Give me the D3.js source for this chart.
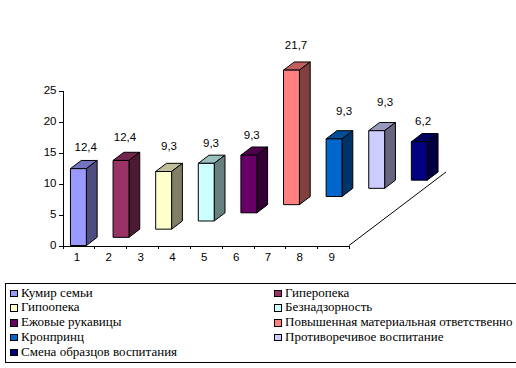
<!DOCTYPE html>
<html>
<head>
<meta charset="utf-8">
<script src="https://cdn.jsdelivr.net/npm/d3@7"></script>
<style>
    html, body { margin: 0; background: #fff; overflow: hidden; }
    svg { display: block; }
</style>
</head>
<body>
<script>
const names = ["Кумир семьи", "Гиперопека", "Гипоопека", "Безнадзорность", "Ежовые рукавицы",
    "Повышенная материальная ответственно", "Кронпринц", "Противоречивое воспитание", "Смена образцов воспитания"];
const values = [12.4, 12.4, 9.3, 9.3, 9.3, 21.7, 9.3, 9.3, 6.2];
const valueLabels = ["12,4", "12,4", "9,3", "9,3", "9,3", "21,7", "9,3", "9,3", "6,2"];
const xLabels = ["1", "2", "3", "4", "5", "6", "7", "8", "9"];
const yTicks = [0, 5, 10, 15, 20, 25];
const colors = ["#9999FF", "#993366", "#FFFFCC", "#CCFFFF", "#660066", "#FF8080", "#0066CC", "#CCCCFF", "#000080"];

// data labels in the original were placed by hand, so they don't sit evenly over the bars
const labelNudgeX = [1.9, -1.4, 0, -0.6, -2.5, -0.8, 4.6, 3, -1.6];
const labelNudgeY = [2.4, 0.4, -1.6, 3.4, 4, -1.6, -4, -4.6, 3.4];

const width = 516, height = 368;

const svg = d3.select("body").append("svg")
    .attr("width", width)
    .attr("height", height)
    .attr("viewBox", [0, 0, width, height]);

const xScale = d3.scaleBand(xLabels, [62.5, 349]).paddingInner(0.5).paddingOuter(0.25);
const xEdges = d3.scaleLinear([0, 9], [62.5, 349]);
const yScale = d3.scaleLinear([0, 25], [245.5, 90.5]);
// each bar stands one step further back on the floor of the 3d box
const depthX = d3.scaleLinear([0, 9], [0, 97]);
const depthY = d3.scaleLinear([0, 9], [0, -73.5]);

const axisFont = "Liberation Sans, Arial, sans-serif";

// floor edge going back from the end of the x axis
svg.append("line")
    .attr("x1", xEdges(9))
    .attr("y1", yScale(0))
    .attr("x2", xEdges(9) + depthX(9))
    .attr("y2", yScale(0) + depthY(9))
    .attr("stroke", "#000");

const bars = svg.append("g")
    .attr("stroke", "#000")
    .attr("stroke-width", 1)
    .attr("stroke-linejoin", "round")
    .selectAll("g")
    .data(values)
    .join("g")
    .attr("transform", (d, i) => `translate(${xScale(xLabels[i]) + depthX(i)},${depthY(i)})`);

const w = xScale.bandwidth(), dx = depthX(1), dy = depthY(1);

function shade(c, k) {
    const col = d3.rgb(c);
    return d3.rgb(col.r * k, col.g * k, col.b * k).formatHex();
}

// top
bars.append("path")
    .attr("fill", (d, i) => shade(colors[i], 0.75))
    .attr("d", d => `M0,${yScale(d)}l${dx},${dy}h${w}l${-dx},${-dy}z`);
// side
bars.append("path")
    .attr("fill", (d, i) => shade(colors[i], 0.5))
    .attr("d", d => `M${w},${yScale(d)}l${dx},${dy}V${yScale(0) + dy}L${w},${yScale(0)}z`);
// front
bars.append("rect")
    .attr("fill", (d, i) => colors[i])
    .attr("x", 0)
    .attr("y", d => yScale(d))
    .attr("width", w)
    .attr("height", d => yScale(0) - yScale(d));

svg.append("g")
    .attr("font-family", axisFont)
    .attr("font-size", 11.5)
    .attr("fill", "#000")
    .attr("text-anchor", "middle")
    .selectAll("text")
    .data(values)
    .join("text")
    .attr("x", (d, i) => xScale(xLabels[i]) + depthX(i) + w / 2 + dx / 2 + labelNudgeX[i])
    .attr("y", (d, i) => yScale(d) + depthY(i) - 20 + labelNudgeY[i])
    .text((d, i) => valueLabels[i]);

// axes
const gy = svg.append("g")
    .attr("transform", `translate(${xEdges(0)},0)`)
    .call(d3.axisLeft(yScale).tickValues(yTicks).tickSize(4).tickPadding(2).tickSizeOuter(0));
gy.selectAll("text")
    .attr("font-family", axisFont)
    .attr("font-size", 11.5)
    .attr("fill", "#000")
    .attr("y", -1);

const gxTicks = svg.append("g")
    .attr("transform", `translate(0,${yScale(0)})`)
    .call(d3.axisBottom(xEdges).tickValues(d3.range(10)).tickFormat("").tickSize(3).tickSizeOuter(0));

const gxLabels = svg.append("g")
    .attr("transform", `translate(-1.5,${yScale(0)})`)
    .call(d3.axisBottom(xScale).tickSize(0).tickPadding(7));
gxLabels.select(".domain").remove();
gxLabels.selectAll("text").attr("font-family", axisFont).attr("font-size", 11.5).attr("fill", "#000");

svg.selectAll(".domain, .tick line").attr("shape-rendering", "crispEdges");

// legend, runs off the right edge of the picture like the original
svg.append("rect")
    .attr("x", 5.5)
    .attr("y", 283.5)
    .attr("width", 540)
    .attr("height", 79)
    .attr("fill", "#fff")
    .attr("stroke", "#000")
    .attr("shape-rendering", "crispEdges");

const legendCol = d3.scaleOrdinal([0, 1], [10.5, 274.5]);
const legendRow = d3.scaleLinear([0, 4], [293.5, 352.5]);

const legend = svg.append("g")
    .selectAll("g")
    .data(names)
    .join("g")
    .attr("transform", (d, i) => `translate(${legendCol(i % 2)},${legendRow(Math.floor(i / 2))})`);

legend.append("rect")
    .attr("x", 0)
    .attr("y", -3.5)
    .attr("width", 6.5)
    .attr("height", 6.5)
    .attr("fill", (d, i) => colors[i])
    .attr("stroke", "#000")
    .attr("shape-rendering", "crispEdges");

legend.append("text")
    .attr("x", 10.5)
    .attr("y", 3)
    .attr("font-family", "Liberation Serif, Times New Roman, serif")
    .attr("font-size", 13)
    .attr("fill", "#000")
    .text(d => d);
</script>
</body>
</html>
